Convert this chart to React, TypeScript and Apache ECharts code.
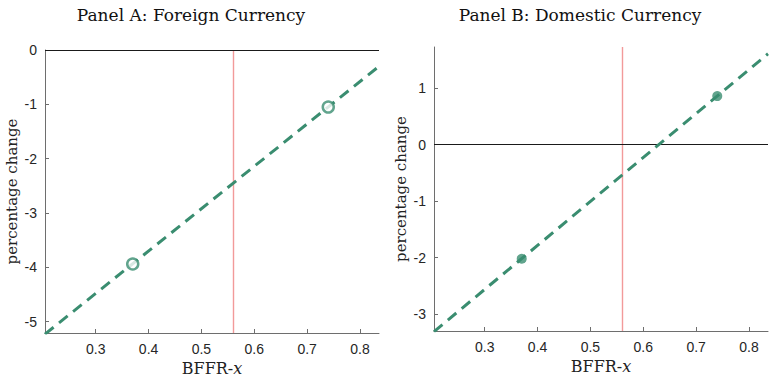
import React, { useEffect, useRef } from "react";
import * as echarts from "echarts";

const titles = ["Panel A: Foreign Currency", "Panel B: Domestic Currency"];
const xRange = [0.204, 0.836];
const yRangeA = [-5.21, 0];
const yRangeB = [-3.3, 1.73];
const fitX = [0.204, 0.836];
const fitA = [-5.23, -0.3];
const fitB = [-3.31, 1.61];
const pointX = [0.37, 0.74];
const pointA = [-3.94, -1.05];
const pointB = [-2.02, 0.86];
const thresholdX = 0.56;
const zeroY = 0;

const GREEN = "#3a8d70";
const RED = "#f29a9a";
const AXIS = "#6e6e6e";
const TEXT = "#262626";

export default function App() {
  const ref = useRef<HTMLDivElement>(null);
  useEffect(() => {
    if (!ref.current) return;
    const chart = echarts.init(ref.current, undefined, { renderer: "svg" });

    const xAxisBase = (gridIndex: number) => ({
      type: "value",
      gridIndex,
      min: xRange[0],
      max: xRange[1],
      name: "{a|BFFR-}{b|x}",
      nameLocation: "middle",
      nameGap: 26,
      nameTextStyle: {
        rich: {
          a: { fontFamily: "DejaVu Serif", fontSize: 16, color: "#222" },
          b: { fontFamily: "DejaVu Serif", fontStyle: "italic", fontSize: 16, color: "#222" },
        },
      },
      axisLine: { show: true, onZero: false, lineStyle: { color: AXIS, width: 1 } },
      axisTick: { show: true, inside: true, length: 4, lineStyle: { color: AXIS } },
      splitLine: { show: false },
      axisLabel: {
        showMinLabel: false,
        showMaxLabel: false,
        margin: 9,
        color: TEXT,
        fontFamily: "Liberation Sans",
        fontSize: 14,
        formatter: (v: number) => v.toFixed(1),
      },
    });

    const yAxisBase = (gridIndex: number, r: number[]) => ({
      type: "value",
      gridIndex,
      min: r[0],
      max: r[1],
      name: "percentage change",
      nameLocation: "middle",
      nameGap: 26,
      nameTextStyle: { fontFamily: "DejaVu Serif", fontSize: 15, color: "#222" },
      axisLine: { show: true, onZero: false, lineStyle: { color: AXIS, width: 1 } },
      axisTick: { show: true, inside: true, length: 4, lineStyle: { color: AXIS } },
      splitLine: { show: false },
      axisLabel: {
        showMinLabel: false,
        showMaxLabel: r[1] === 0,
        margin: 8,
        color: TEXT,
        fontFamily: "Liberation Sans",
        fontSize: 14,
        formatter: (v: number) => String(Math.round(v)),
      },
    });

    const panelSeries = (idx: number, fit: number[], pts: number[], hollow: boolean) => [
      {
        type: "line",
        xAxisIndex: idx,
        yAxisIndex: idx,
        data: [],
        z: 1,
        markLine: {
          silent: true,
          symbol: "none",
          z: 1,
          label: { show: false },
          data: [
            { xAxis: thresholdX, lineStyle: { color: RED, width: 1.4, type: "solid" } },
            { yAxis: zeroY, lineStyle: { color: "#1a1a1a", width: 1.2, type: "solid" } },
          ],
        },
      },
      {
        type: "line",
        xAxisIndex: idx,
        yAxisIndex: idx,
        data: fitX.map((x, i) => [x, fit[i]]),
        showSymbol: false,
        symbol: "none",
        z: 3,
        lineStyle: { color: GREEN, width: 3, type: [11, 7] },
      },
      {
        type: "scatter",
        xAxisIndex: idx,
        yAxisIndex: idx,
        data: pointX.map((x, i) => [x, pts[i]]),
        symbol: "circle",
        symbolSize: hollow ? 11 : 10,
        z: 4,
        itemStyle: hollow
          ? { color: "#ffffff", borderColor: GREEN, borderWidth: 2.5 }
          : { color: GREEN, borderColor: GREEN, borderWidth: 0 },
      },
    ];

    chart.setOption({
      animation: false,
      title: [
        {
          text: titles[0],
          left: 186,
          top: 1,
          textAlign: "center",
          textStyle: { fontFamily: "DejaVu Serif", fontSize: 17, fontWeight: "normal", color: "#111" },
        },
        {
          text: titles[1],
          left: 575,
          top: 1,
          textAlign: "center",
          textStyle: { fontFamily: "DejaVu Serif", fontSize: 17, fontWeight: "normal", color: "#111" },
        },
      ],
      grid: [
        { left: 45, top: 50, width: 334, height: 283 },
        { left: 434, top: 47, width: 334, height: 284 },
      ],
      xAxis: [xAxisBase(0), xAxisBase(1)],
      yAxis: [yAxisBase(0, yRangeA), yAxisBase(1, yRangeB)],
      series: [...panelSeries(0, fitA, pointA, true), ...panelSeries(1, fitB, pointB, false)],
    });
    return () => chart.dispose();
  }, []);
  return <div ref={ref} style={{ width: 780, height: 382, position: "absolute", left: 0, top: 0 }} />;
}
